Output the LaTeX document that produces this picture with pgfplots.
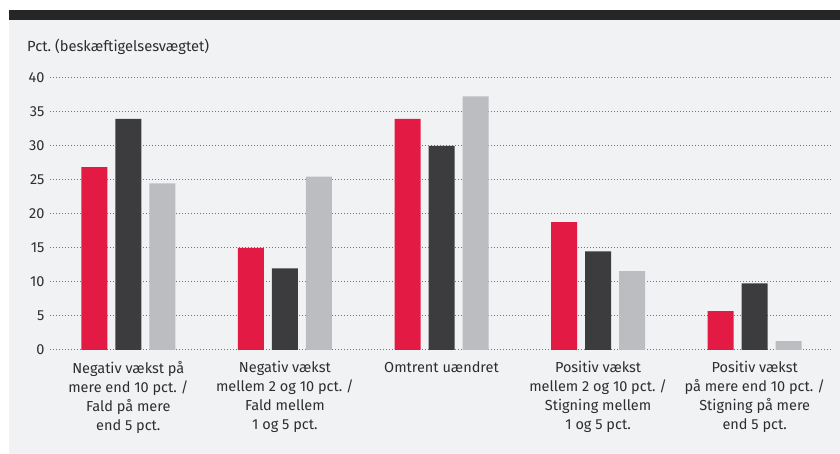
\documentclass[border=0pt]{standalone}
\usepackage{pgfplots}
\pgfplotsset{compat=1.18}
\usepackage{fontspec}
\setmainfont{Fira Sans}
\frenchspacing
\definecolor{bg}{HTML}{F1F2F4}
\definecolor{topbar}{HTML}{262626}
\definecolor{cred}{HTML}{E31A43}
\definecolor{cdark}{HTML}{3C3C3E}
\definecolor{clight}{HTML}{BCBDC0}
\definecolor{txt}{HTML}{2E2E2E}
\begin{document}
\begin{tikzpicture}[x=1pt,y=1pt]
\useasboundingbox (0,0) rectangle (840,454);
\fill[bg] (9,0) rectangle (840,434);
\fill[topbar] (9,434) rectangle (840,444);
\node[anchor=west, font=\fontsize{14.7}{17}\selectfont, text=txt, inner sep=0pt] at (27,407) {Pct. (beskæftigelsesvægtet)};
\begin{axis}[
  at={(50pt,104pt)}, anchor=south west,
  scale only axis, width=783pt, height=272pt,
  xmin=-0.5, xmax=4.5, ymin=0, ymax=40,
  ytick={0,5,...,40},
  xtick={0,1,2,3,4},
  xticklabels={{Negativ vækst på\\mere end 10 pct. /\\Fald på mere\\end 5 pct.},
    {Negativ vækst\\mellem 2 og 10 pct. /\\Fald mellem\\1 og 5 pct.},
    {Omtrent uændret},
    {Positiv vækst\\mellem 2 og 10 pct. /\\Stigning mellem\\1 og 5 pct.},
    {Positiv vækst\\på mere end 10 pct. /\\Stigning på mere\\end 5 pct.}},
  axis line style={draw=none},
  major tick length=0pt,
  ymajorgrids, grid style={line width=1pt, color=black!55, dash pattern=on 1pt off 2pt},
  /pgf/number format/assume math mode=true,
  ticklabel style={font=\fontsize{14.5}{18.8}\selectfont, text=txt},
  yticklabel style={xshift=-2pt},
  xticklabel style={align=center, anchor=north, yshift=-8pt},
  ybar=8pt, bar width=26pt,
  clip=false,
]
\addplot[fill=cred, draw=none] coordinates {(0,26.9) (1,15.0) (2,34.0) (3,18.8) (4,5.7)};
\addplot[fill=cdark, draw=none] coordinates {(0,34.0) (1,12.0) (2,30.0) (3,14.5) (4,9.8)};
\addplot[fill=clight, draw=none] coordinates {(0,24.5) (1,25.5) (2,37.3) (3,11.6) (4,1.3)};
\end{axis}
\end{tikzpicture}
\end{document}
